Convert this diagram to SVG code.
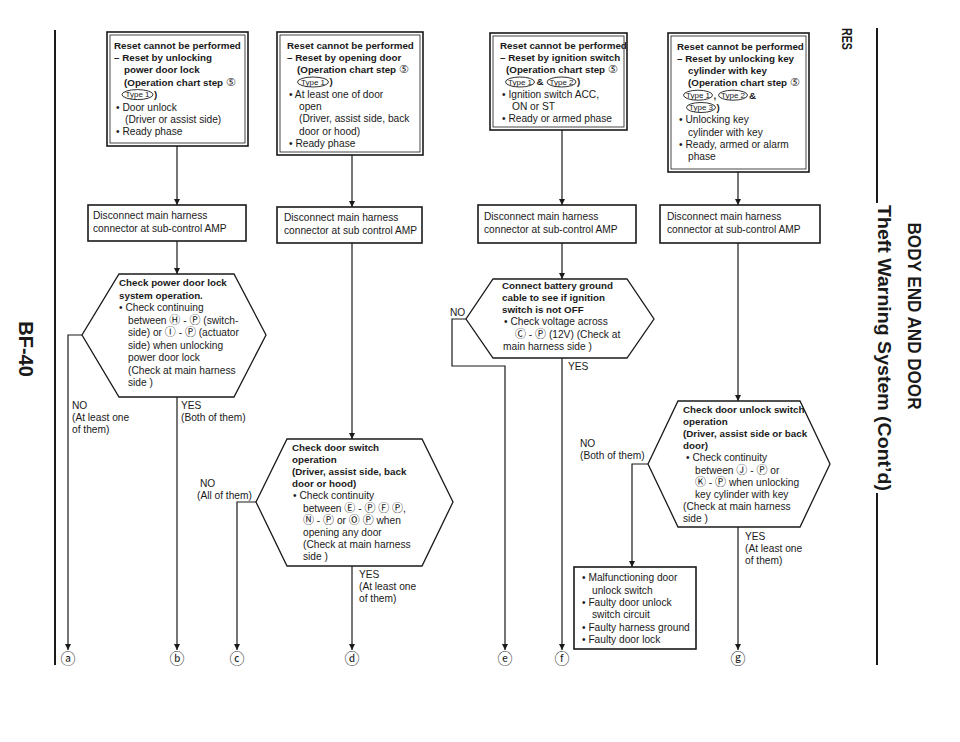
<svg xmlns="http://www.w3.org/2000/svg" width="960" height="742" viewBox="0 0 960 742">
<defs>
<marker id="ah" viewBox="0 0 10 10" refX="10" refY="5" markerWidth="7" markerHeight="6" markerUnits="userSpaceOnUse" orient="auto">
<path d="M0,0 L10,5 L0,10 z" fill="#1a1a1a"/>
</marker>
<style>
text{font-family:"Liberation Sans","Noto Sans CJK JP",sans-serif;font-size:10.2px;fill:#1a1a1a}
.b{font-weight:bold;font-size:9.8px}
.c{font-family:"DejaVu Sans","Noto Sans CJK JP",sans-serif;font-size:11px;font-weight:normal}
.ty{font-size:8px;text-anchor:middle}
.lb{font-family:"DejaVu Sans","Noto Sans CJK JP",sans-serif;font-size:15px;text-anchor:middle}
.ln{stroke:#1a1a1a;stroke-width:1.2;fill:none}
.box{fill:#fff;stroke:#1a1a1a;stroke-width:1.6}
.in{fill:none;stroke:#1a1a1a;stroke-width:0.8}
.ov{fill:none;stroke:#1a1a1a;stroke-width:0.9}
.hx{fill:#fff;stroke:#1a1a1a;stroke-width:1.3}
.rule{stroke:#1a1a1a;stroke-width:2;fill:none}
.hd{font-weight:bold;text-anchor:middle}
</style>
</defs>
<rect width="960" height="742" fill="#fff"/>

<g id="page-frame">
<line class="rule" x1="55" y1="30" x2="55" y2="665"/>
<line class="rule" x1="877" y1="28" x2="877" y2="203"/>
<line class="rule" x1="877" y1="493" x2="877" y2="665"/>
<text class="hd" style="font-size:20px" transform="translate(19,349) rotate(90)">BF-40</text>
<text class="hd" style="font-size:14px" transform="translate(842,39) rotate(90)" textLength="22" lengthAdjust="spacingAndGlyphs">RES</text>
<text class="hd" style="font-size:18px" transform="translate(878,348) rotate(90)" textLength="286" lengthAdjust="spacingAndGlyphs">Theft Warning System (Cont’d)</text>
<text class="hd" style="font-size:19px" transform="translate(908,316) rotate(90)" textLength="187" lengthAdjust="spacingAndGlyphs">BODY END AND DOOR</text>
</g>

<g id="connectors">
<path class="ln" d="M177,146 V205" marker-end="url(#ah)"/>
<path class="ln" d="M177,241 V274" marker-end="url(#ah)"/>
<path class="ln" d="M177,397 V650" marker-end="url(#ah)"/>
<path class="ln" d="M82,335 H68 V650" marker-end="url(#ah)"/>
<path class="ln" d="M352,155 V207" marker-end="url(#ah)"/>
<path class="ln" d="M352,243 V439" marker-end="url(#ah)"/>
<path class="ln" d="M352,566 V650" marker-end="url(#ah)"/>
<path class="ln" d="M256,502 H237 V650" marker-end="url(#ah)"/>
<path class="ln" d="M562,130 V205" marker-end="url(#ah)"/>
<path class="ln" d="M562,243 V279" marker-end="url(#ah)"/>
<path class="ln" d="M562,358 V650" marker-end="url(#ah)"/>
<path class="ln" d="M466,319 H452 V366 H505 V650" marker-end="url(#ah)"/>
<path class="ln" d="M738,172 V205" marker-end="url(#ah)"/>
<path class="ln" d="M738,243 V401" marker-end="url(#ah)"/>
<path class="ln" d="M738,527 V650" marker-end="url(#ah)"/>
<path class="ln" d="M648,464 H632 V567" marker-end="url(#ah)"/>
</g>

<g id="labels">
<text x="72" y="409">NO</text>
<text x="72" y="421">(At least one</text>
<text x="72" y="433">of them)</text>
<text x="181" y="409">YES</text>
<text x="181" y="421">(Both of them)</text>
<text x="200" y="487">NO</text>
<text x="197" y="499">(All of them)</text>
<text x="359" y="578">YES</text>
<text x="359" y="590">(At least one</text>
<text x="359" y="602">of them)</text>
<text x="450" y="316">NO</text>
<text x="568" y="370">YES</text>
<text x="580" y="447">NO</text>
<text x="580" y="459">(Both of them)</text>
<text x="745" y="540">YES</text>
<text x="745" y="552">(At least one</text>
<text x="745" y="564">of them)</text>
<text class="lb" x="68" y="664">ⓐ</text>
<text class="lb" x="177" y="664">ⓑ</text>
<text class="lb" x="237" y="664">ⓒ</text>
<text class="lb" x="352" y="664">ⓓ</text>
<text class="lb" x="505" y="664">ⓔ</text>
<text class="lb" x="562" y="664">ⓕ</text>
<text class="lb" x="738" y="664">ⓖ</text>
</g>

<g id="reset-unlock-power-door-lock">
<rect class="box" x="107" y="32" width="141" height="114"/>
<rect class="in" x="110" y="35" width="135" height="108"/>
<text class="b" x="114" y="48.5">Reset cannot be performed</text>
<text class="b" x="114" y="60.9">– Reset by unlocking</text>
<text class="b" x="124" y="73.3">power door lock</text>
<text class="b" x="124" y="85.7">(Operation chart step <tspan class="c">⑤</tspan></text>
<ellipse class="ov" cx="137.5" cy="94.6" rx="15.5" ry="5"/>
<text class="ty" x="137.5" y="97.3">Type 1</text>
<text class="b" x="154" y="98.1">)</text>
<text x="116" y="110.5">•  Door unlock</text>
<text x="125" y="122.9">(Driver or assist side)</text>
<text x="116" y="135.3">•  Ready phase</text>
</g>

<g id="reset-opening-door">
<rect class="box" x="277" y="32" width="146" height="123"/>
<rect class="in" x="280" y="35" width="140" height="117"/>
<text class="b" x="287" y="48.5">Reset cannot be performed</text>
<text class="b" x="287" y="60.8">– Reset by opening door</text>
<text class="b" x="297" y="73.1">(Operation chart step <tspan class="c">⑤</tspan></text>
<ellipse class="ov" cx="313" cy="82" rx="15.5" ry="5"/>
<text class="ty" x="313" y="84.7">Type 1</text>
<text class="b" x="329.5" y="85.4">)</text>
<text x="289" y="97.7">•  At least one of door</text>
<text x="299" y="110">open</text>
<text x="299" y="122.3">(Driver, assist side, back</text>
<text x="299" y="134.6">door or hood)</text>
<text x="289" y="146.9">•  Ready phase</text>
</g>

<g id="reset-ignition-switch">
<rect class="box" x="490" y="33" width="137" height="97"/>
<rect class="in" x="493" y="36" width="131" height="91"/>
<text class="b" x="500" y="48.5">Reset cannot be performed</text>
<text class="b" x="500" y="60.8">– Reset by ignition switch</text>
<text class="b" x="506" y="73.1">(Operation chart step <tspan class="c">⑤</tspan></text>
<ellipse class="ov" cx="520" cy="82" rx="14.5" ry="5"/>
<text class="ty" x="520" y="84.7">Type 1</text>
<text class="b" x="536.5" y="85.4">&amp;</text>
<ellipse class="ov" cx="561.5" cy="82" rx="14.5" ry="5"/>
<text class="ty" x="561.5" y="84.7">Type 2</text>
<text class="b" x="577" y="85.4">)</text>
<text x="502" y="97.7">•  Ignition switch ACC,</text>
<text x="512" y="110">ON or ST</text>
<text x="502" y="122.3">•  Ready or armed phase</text>
</g>

<g id="reset-key-cylinder">
<rect class="box" x="668" y="33" width="141" height="139"/>
<rect class="in" x="671" y="36" width="135" height="133"/>
<text class="b" x="677" y="49.5">Reset cannot be performed</text>
<text class="b" x="677" y="61.8">– Reset by unlocking key</text>
<text class="b" x="688" y="74.1">cylinder with key</text>
<text class="b" x="688" y="86.4">(Operation chart step <tspan class="c">⑤</tspan></text>
<ellipse class="ov" cx="698" cy="95.2" rx="14.5" ry="5"/>
<text class="ty" x="698" y="97.9">Type 1</text>
<text class="b" x="713.5" y="98.7">,</text>
<ellipse class="ov" cx="733" cy="95.2" rx="14.5" ry="5"/>
<text class="ty" x="733" y="97.9">Type 2</text>
<text class="b" x="749" y="98.7">&amp;</text>
<ellipse class="ov" cx="701" cy="107.5" rx="14.5" ry="5"/>
<text class="ty" x="701" y="110.2">Type 3</text>
<text class="b" x="716.5" y="111">)</text>
<text x="679" y="123.3">•  Unlocking key</text>
<text x="688" y="135.6">cylinder with key</text>
<text x="679" y="147.9">•  Ready, armed or alarm</text>
<text x="688" y="160.2">phase</text>
</g>

<g id="disconnect-1">
<rect class="box" x="88" y="205" width="158" height="36"/>
<text x="93" y="219">Disconnect main harness</text>
<text x="93" y="232">connector at sub-control AMP</text>
</g>
<g id="disconnect-2">
<rect class="box" x="277" y="207" width="145" height="36"/>
<text x="284" y="221">Disconnect main harness</text>
<text x="284" y="234">connector at sub control AMP</text>
</g>
<g id="disconnect-3">
<rect class="box" x="478" y="205" width="158" height="38"/>
<text x="484" y="220">Disconnect main harness</text>
<text x="484" y="233">connector at sub-control AMP</text>
</g>
<g id="disconnect-4">
<rect class="box" x="660" y="205" width="160" height="38"/>
<text x="667" y="220">Disconnect main harness</text>
<text x="667" y="233">connector at sub-control AMP</text>
</g>

<g id="check-power-door-lock">
<polygon class="hx" points="119,274 234,274 266,335 234,397 119,397 82,335"/>
<text class="b" x="119" y="286">Check power door lock</text>
<text class="b" x="119" y="298.5">system operation.</text>
<text x="119" y="311">•  Check continuing</text>
<text x="128" y="323.5">between <tspan class="c">Ⓗ</tspan> - <tspan class="c">Ⓟ</tspan> (switch-</text>
<text x="128" y="336">side) or <tspan class="c">Ⓘ</tspan> - <tspan class="c">Ⓟ</tspan> (actuator</text>
<text x="128" y="348.5">side) when unlocking</text>
<text x="128" y="361">power door lock</text>
<text x="128" y="373.5">(Check at main harness</text>
<text x="128" y="386">side )</text>
</g>

<g id="check-door-switch">
<polygon class="hx" points="287,439 422,439 453,502 422,566 287,566 256,502"/>
<text class="b" x="292" y="450.5">Check door switch</text>
<text class="b" x="292" y="462.7">operation</text>
<text class="b" x="292" y="474.9">(Driver, assist side, back</text>
<text class="b" x="292" y="487.1">door or hood)</text>
<text x="293" y="499.3">•  Check continuity</text>
<text x="303" y="511.5">between <tspan class="c">Ⓔ</tspan> - <tspan class="c">Ⓟ</tspan> <tspan class="c">Ⓕ</tspan>  <tspan class="c">Ⓟ</tspan>,</text>
<text x="303" y="523.7"><tspan class="c">Ⓝ</tspan> - <tspan class="c">Ⓟ</tspan> or <tspan class="c">Ⓞ</tspan>  <tspan class="c">Ⓟ</tspan> when</text>
<text x="303" y="535.9">opening any door</text>
<text x="303" y="548.1">(Check at main harness</text>
<text x="303" y="560.3">side )</text>
</g>

<g id="connect-battery-ground">
<polygon class="hx" points="493,279 627,279 654,319 627,358 493,358 466,319"/>
<text class="b" x="502" y="288.5">Connect battery ground</text>
<text class="b" x="502" y="300.8">cable to see if ignition</text>
<text class="b" x="502" y="313.1">switch is not OFF</text>
<text x="504" y="325.4">•  Check voltage across</text>
<text x="515" y="337.7"><tspan class="c">Ⓒ</tspan> - <tspan class="c">Ⓟ</tspan> (12V)  (Check at</text>
<text x="503" y="350">main harness side )</text>
</g>

<g id="check-door-unlock-switch">
<polygon class="hx" points="678,401 800,401 830,464 800,527 678,527 648,464"/>
<text class="b" x="683" y="412.5">Check door unlock switch</text>
<text class="b" x="683" y="424.7">operation</text>
<text class="b" x="683" y="436.9">(Driver, assist side or back</text>
<text class="b" x="683" y="449.1">door)</text>
<text x="686" y="461.3">•  Check continuity</text>
<text x="695" y="473.5">between <tspan class="c">Ⓙ</tspan> - <tspan class="c">Ⓟ</tspan> or</text>
<text x="695" y="485.7"><tspan class="c">Ⓚ</tspan> - <tspan class="c">Ⓟ</tspan> when unlocking</text>
<text x="695" y="497.9">key cylinder with key</text>
<text x="683" y="510.1">(Check at main harness</text>
<text x="683" y="522.3">side )</text>
</g>

<g id="malfunction-causes">
<rect class="box" x="574" y="567" width="122" height="82"/>
<text x="582" y="581">•  Malfunctioning door</text>
<text x="592" y="593.5">unlock switch</text>
<text x="582" y="606">•  Faulty door unlock</text>
<text x="592" y="618">switch circuit</text>
<text x="582" y="630.5">•  Faulty harness ground</text>
<text x="582" y="643">•  Faulty door lock</text>
</g>
</svg>
